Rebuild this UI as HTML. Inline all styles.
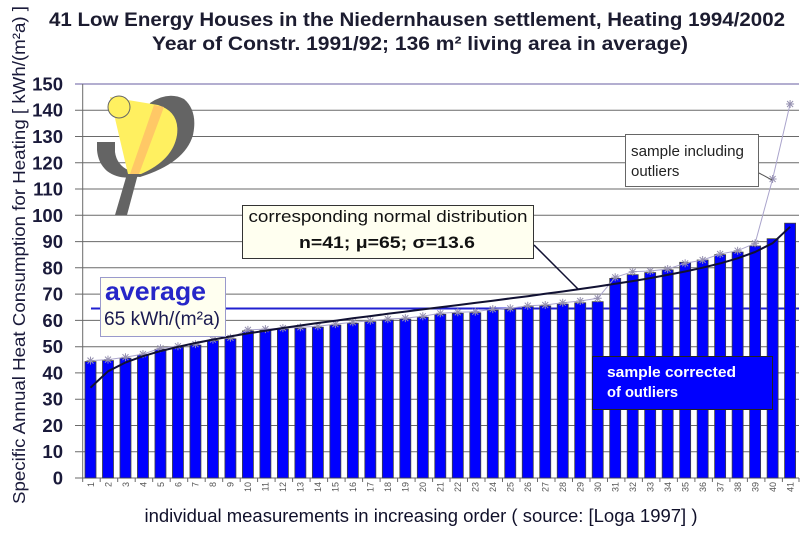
<!DOCTYPE html>
<html><head><meta charset="utf-8"><style>
html,body{margin:0;padding:0;background:#fff;width:800px;height:534px;overflow:hidden}
svg{display:block}
text{font-family:"Liberation Sans",Arial,sans-serif}
</style></head><body>
<svg width="800" height="534" viewBox="0 0 800 534" xmlns="http://www.w3.org/2000/svg">
<defs>
<g id="s" stroke="#9590b0" stroke-width="1" fill="none"><path d="M-4,0H4M0,-4V4M-3,-3L3,3M-3,3L3,-3"/></g>
</defs>
<rect width="800" height="534" fill="#fff"/>
<!-- title -->
<text x="417" y="26" font-size="19" font-weight="bold" fill="#1c1c30" text-anchor="middle" textLength="736" lengthAdjust="spacingAndGlyphs">41 Low Energy Houses in the Niedernhausen settlement, Heating 1994/2002</text>
<text x="420" y="50" font-size="19" font-weight="bold" fill="#1c1c30" text-anchor="middle" textLength="536" lengthAdjust="spacingAndGlyphs">Year of Constr. 1991/92; 136 m² living area in average)</text>
<!-- y axis title -->
<text transform="translate(25,255) rotate(-90)" font-size="17.5" fill="#1a1a3a" text-anchor="middle" textLength="498" lengthAdjust="spacingAndGlyphs">Specific Annual Heat Consumption for Heating [ kWh/(m²a) ]</text>
<!-- x axis title -->
<text x="421" y="522" font-size="18" fill="#10102a" text-anchor="middle" textLength="553" lengthAdjust="spacingAndGlyphs">individual measurements in increasing order ( source: [Loga 1997] )</text>
<!-- gridlines -->
<g stroke="#6a6a6a" stroke-width="1">
<path d="M75,451.7H799M75,425.5H799M75,399.2H799M75,372.9H799M75,346.7H799M75,320.4H799M75,294.1H799M75,267.8H799M75,241.6H799M75,215.3H799M75,189H799M75,162.8H799M75,136.5H799M75,110.2H799"/>
</g>
<path d="M75,84H799" stroke="#b3aed0" stroke-width="2"/>
<path d="M75,478H799" stroke="#6a6a6a" stroke-width="1"/>
<path d="M82.7,84V478" stroke="#6a6a6a" stroke-width="1"/>
<!-- y tick labels -->
<g font-size="18.5" font-weight="bold" fill="#1a1a3a" text-anchor="end">
<text x="63" y="484.5">0</text>
<text x="63" y="458.2">10</text>
<text x="63" y="432">20</text>
<text x="63" y="405.7">30</text>
<text x="63" y="379.4">40</text>
<text x="63" y="353.2">50</text>
<text x="63" y="326.9">60</text>
<text x="63" y="300.6">70</text>
<text x="63" y="274.3">80</text>
<text x="63" y="248.1">90</text>
<text x="63" y="221.8">100</text>
<text x="63" y="195.5">110</text>
<text x="63" y="169.3">120</text>
<text x="63" y="143">130</text>
<text x="63" y="116.7">140</text>
<text x="63" y="90.5">150</text>
</g>
<!-- logo -->
<g>
<path d="M150,103 Q168,91 184,99 Q198,111 193,135 Q185,163 140,177 L128,176 Z" fill="#646464"/>
<path d="M97,142 L115,142 L115,152 Q117,167 133,172 L141,176 Q120,181 107,171 Q98,163 97,150 Z" fill="#646464"/>
<path d="M127,174 L138,174 L127,215 L115,215 Z" fill="#646464"/>
<path d="M110,97 L158,105 Q180,112 177,135 Q173,160 141,174 L128,174 Z" fill="#fff060"/>
<path d="M154,105 L164,107 L139,174 L130,174 Z" fill="#ffc866"/>
<circle cx="119" cy="107" r="11" fill="#fff060" stroke="#666" stroke-width="1"/>
</g>
<!-- average line -->
<path d="M91,308.5H799" stroke="#2020d0" stroke-width="2"/>
<!-- bars -->
<g fill="#0000ff" stroke="#404040" stroke-width="0.8">
<rect x="85" y="361.6" width="11" height="116.4"/>
<rect x="102.49" y="360.6" width="11" height="117.4"/>
<rect x="119.98" y="358.2" width="11" height="119.8"/>
<rect x="137.47" y="355.1" width="11" height="122.9"/>
<rect x="154.96" y="349.3" width="11" height="128.7"/>
<rect x="172.45" y="347.2" width="11" height="130.8"/>
<rect x="189.94" y="345.1" width="11" height="132.9"/>
<rect x="207.43" y="340.6" width="11" height="137.4"/>
<rect x="224.92" y="338.8" width="11" height="139.2"/>
<rect x="242.41" y="330.9" width="11" height="147.1"/>
<rect x="259.9" y="330.1" width="11" height="147.9"/>
<rect x="277.39" y="329.1" width="11" height="148.9"/>
<rect x="294.88" y="328.3" width="11" height="149.7"/>
<rect x="312.37" y="327.2" width="11" height="150.8"/>
<rect x="329.86" y="325.1" width="11" height="152.9"/>
<rect x="347.35" y="323.3" width="11" height="154.7"/>
<rect x="364.84" y="321.7" width="11" height="156.3"/>
<rect x="382.33" y="320.1" width="11" height="157.9"/>
<rect x="399.82" y="319.1" width="11" height="158.9"/>
<rect x="417.31" y="317.2" width="11" height="160.8"/>
<rect x="434.8" y="314.3" width="11" height="163.7"/>
<rect x="452.29" y="313.3" width="11" height="164.7"/>
<rect x="469.78" y="312.8" width="11" height="165.2"/>
<rect x="487.27" y="310.1" width="11" height="167.9"/>
<rect x="504.76" y="309.3" width="11" height="168.7"/>
<rect x="522.25" y="306.7" width="11" height="171.3"/>
<rect x="539.74" y="305.9" width="11" height="172.1"/>
<rect x="557.23" y="304.1" width="11" height="173.9"/>
<rect x="574.72" y="302.8" width="11" height="175.2"/>
<rect x="592.21" y="301.7" width="11" height="176.3"/>
<rect x="609.7" y="278.4" width="11" height="199.6"/>
<rect x="627.19" y="274.7" width="11" height="203.3"/>
<rect x="644.68" y="272.6" width="11" height="205.4"/>
<rect x="662.17" y="269.9" width="11" height="208.1"/>
<rect x="679.66" y="262.3" width="11" height="215.7"/>
<rect x="697.15" y="260" width="11" height="218"/>
<rect x="714.64" y="254.7" width="11" height="223.3"/>
<rect x="732.13" y="252.1" width="11" height="225.9"/>
<rect x="749.62" y="246" width="11" height="232"/>
<rect x="767.11" y="238.7" width="11" height="239.3"/>
<rect x="784.6" y="223.2" width="11" height="254.8"/>
</g>
<!-- x ticks -->
<path stroke="#6a6a6a" stroke-width="1" d="M82.7,478v4M100.2,478v4M117.7,478v4M135.2,478v4M152.7,478v4M170.2,478v4M187.7,478v4M205.2,478v4M222.7,478v4M240.2,478v4M257.6,478v4M275.1,478v4M292.6,478v4M310.1,478v4M327.6,478v4M345.1,478v4M362.6,478v4M380.1,478v4M397.6,478v4M415.1,478v4M432.6,478v4M450,478v4M467.5,478v4M485,478v4M502.5,478v4M520,478v4M537.5,478v4M555,478v4M572.5,478v4M590,478v4M607.5,478v4M624.9,478v4M642.4,478v4M659.9,478v4M677.4,478v4M694.9,478v4M712.4,478v4M729.9,478v4M747.4,478v4M764.9,478v4M782.4,478v4M799,478v4"/>
<!-- outlier series line -->
<polyline fill="none" stroke="#aaa4cc" stroke-width="1" points="90.5,360.6 107.99,359.6 125.48,357.2 142.97,354.1 160.46,348.3 177.95,346.2 195.44,344.1 212.93,339.6 230.42,337.8 247.91,329.9 265.4,329.1 282.89,328.1 300.38,327.3 317.87,326.2 335.36,324.1 352.85,322.3 370.34,320.7 387.83,319.1 405.32,318.1 422.81,316.2 440.3,313.3 457.79,312.3 475.28,311.8 492.77,309.1 510.26,308.3 527.75,305.7 545.24,305 562.73,302.7 580.22,301 597.71,298.3 615.2,277.3 632.69,271.7 650.18,271 667.67,269 685.16,263.3 702.65,260 720.14,254 737.63,250.7 755.12,243.3 772.61,179 790.1,104"/>
<g>
<use href="#s" x="90.5" y="360.6"/><use href="#s" x="107.99" y="359.6"/><use href="#s" x="125.48" y="357.2"/><use href="#s" x="142.97" y="354.1"/><use href="#s" x="160.46" y="348.3"/><use href="#s" x="177.95" y="346.2"/><use href="#s" x="195.44" y="344.1"/><use href="#s" x="212.93" y="339.6"/><use href="#s" x="230.42" y="337.8"/><use href="#s" x="247.91" y="329.9"/><use href="#s" x="265.4" y="329.1"/><use href="#s" x="282.89" y="328.1"/><use href="#s" x="300.38" y="327.3"/><use href="#s" x="317.87" y="326.2"/><use href="#s" x="335.36" y="324.1"/><use href="#s" x="352.85" y="322.3"/><use href="#s" x="370.34" y="320.7"/><use href="#s" x="387.83" y="319.1"/><use href="#s" x="405.32" y="318.1"/><use href="#s" x="422.81" y="316.2"/><use href="#s" x="440.3" y="313.3"/><use href="#s" x="457.79" y="312.3"/><use href="#s" x="475.28" y="311.8"/><use href="#s" x="492.77" y="309.1"/><use href="#s" x="510.26" y="308.3"/><use href="#s" x="527.75" y="305.7"/><use href="#s" x="545.24" y="305"/><use href="#s" x="562.73" y="302.7"/><use href="#s" x="580.22" y="301"/><use href="#s" x="597.71" y="298.3"/><use href="#s" x="615.2" y="277.3"/><use href="#s" x="632.69" y="271.7"/><use href="#s" x="650.18" y="271"/><use href="#s" x="667.67" y="269"/><use href="#s" x="685.16" y="263.3"/><use href="#s" x="702.65" y="260"/><use href="#s" x="720.14" y="254"/><use href="#s" x="737.63" y="250.7"/><use href="#s" x="755.12" y="243.3"/><use href="#s" x="772.61" y="179"/><use href="#s" x="790.1" y="104"/>
</g>
<!-- normal distribution curve -->
<polyline fill="none" stroke="#111133" stroke-width="2" stroke-linejoin="round" points="90.5,387.7 107.99,371.3 125.48,362.5 142.97,356.2 160.46,351.1 177.95,346.8 195.44,343 212.93,339.6 230.42,336.4 247.91,333.4 265.4,330.7 282.89,328 300.38,325.5 317.87,323 335.36,320.7 352.85,318.3 370.34,316.1 387.83,313.8 405.32,311.6 422.81,309.4 440.3,307.2 457.79,305.1 475.28,302.9 492.77,300.7 510.26,298.4 527.75,296.2 545.24,293.8 562.73,291.5 580.22,289 597.71,286.5 615.2,283.8 632.69,281.1 650.18,278.1 667.67,274.9 685.16,271.5 702.65,267.7 720.14,263.4 737.63,258.3 755.12,252 772.61,243.2 790.1,226.8"/>
<!-- x tick labels -->
<g font-size="9" fill="#555" text-anchor="end">
<text transform="translate(93.8,482) rotate(-90)">1</text>
<text transform="translate(111.3,482) rotate(-90)">2</text>
<text transform="translate(128.8,482) rotate(-90)">3</text>
<text transform="translate(146.3,482) rotate(-90)">4</text>
<text transform="translate(163.8,482) rotate(-90)">5</text>
<text transform="translate(181.3,482) rotate(-90)">6</text>
<text transform="translate(198.7,482) rotate(-90)">7</text>
<text transform="translate(216.2,482) rotate(-90)">8</text>
<text transform="translate(233.7,482) rotate(-90)">9</text>
<text transform="translate(251.2,482) rotate(-90)">10</text>
<text transform="translate(268.7,482) rotate(-90)">11</text>
<text transform="translate(286.2,482) rotate(-90)">12</text>
<text transform="translate(303.7,482) rotate(-90)">13</text>
<text transform="translate(321.2,482) rotate(-90)">14</text>
<text transform="translate(338.7,482) rotate(-90)">15</text>
<text transform="translate(356.2,482) rotate(-90)">16</text>
<text transform="translate(373.6,482) rotate(-90)">17</text>
<text transform="translate(391.1,482) rotate(-90)">18</text>
<text transform="translate(408.6,482) rotate(-90)">19</text>
<text transform="translate(426.1,482) rotate(-90)">20</text>
<text transform="translate(443.6,482) rotate(-90)">21</text>
<text transform="translate(461.1,482) rotate(-90)">22</text>
<text transform="translate(478.6,482) rotate(-90)">23</text>
<text transform="translate(496.1,482) rotate(-90)">24</text>
<text transform="translate(513.6,482) rotate(-90)">25</text>
<text transform="translate(531.1,482) rotate(-90)">26</text>
<text transform="translate(548.5,482) rotate(-90)">27</text>
<text transform="translate(566,482) rotate(-90)">28</text>
<text transform="translate(583.5,482) rotate(-90)">29</text>
<text transform="translate(601,482) rotate(-90)">30</text>
<text transform="translate(618.5,482) rotate(-90)">31</text>
<text transform="translate(636,482) rotate(-90)">32</text>
<text transform="translate(653.5,482) rotate(-90)">33</text>
<text transform="translate(671,482) rotate(-90)">34</text>
<text transform="translate(688.5,482) rotate(-90)">35</text>
<text transform="translate(706,482) rotate(-90)">36</text>
<text transform="translate(723.4,482) rotate(-90)">37</text>
<text transform="translate(740.9,482) rotate(-90)">38</text>
<text transform="translate(758.4,482) rotate(-90)">39</text>
<text transform="translate(775.9,482) rotate(-90)">40</text>
<text transform="translate(793.4,482) rotate(-90)">41</text>
</g>
<!-- average box -->
<rect x="100.5" y="277.5" width="125" height="59" fill="#fffff0" stroke="#9a9acc" stroke-width="1"/>
<text x="105" y="300" font-size="26" font-weight="bold" fill="#2626c8" textLength="101" lengthAdjust="spacingAndGlyphs">average</text>
<text x="104" y="325" font-size="19" fill="#1a1a50" textLength="116" lengthAdjust="spacingAndGlyphs">65 kWh/(m²a)</text>
<!-- normal distribution box -->
<path d="M534,245 L578,289" stroke="#111133" stroke-width="1.5"/>
<rect x="242.5" y="205.5" width="291" height="53" fill="#fffff0" stroke="#333" stroke-width="1"/>
<text x="388" y="222" font-size="17" fill="#111" text-anchor="middle" textLength="279" lengthAdjust="spacingAndGlyphs">corresponding normal distribution</text>
<text x="387" y="248" font-size="17" font-weight="bold" fill="#111" text-anchor="middle" textLength="176" lengthAdjust="spacingAndGlyphs">n=41; μ=65; σ=13.6</text>
<!-- outliers box -->
<path d="M759,173 L772,180" stroke="#555" stroke-width="1"/>
<rect x="625.5" y="134.5" width="133" height="52" fill="#fff" stroke="#666" stroke-width="1"/>
<text x="631" y="156" font-size="15" fill="#222" textLength="113" lengthAdjust="spacingAndGlyphs">sample including</text>
<text x="631" y="176" font-size="15" fill="#222">outliers</text>
<!-- corrected box -->
<rect x="592.5" y="356.5" width="180" height="53" fill="#0000ff" stroke="#222" stroke-width="1"/>
<text x="607" y="377" font-size="14.5" font-weight="bold" fill="#fff" textLength="129" lengthAdjust="spacingAndGlyphs">sample corrected</text>
<text x="607" y="397" font-size="14.5" font-weight="bold" fill="#fff" textLength="71" lengthAdjust="spacingAndGlyphs">of outliers</text>
</svg>
</body></html>
